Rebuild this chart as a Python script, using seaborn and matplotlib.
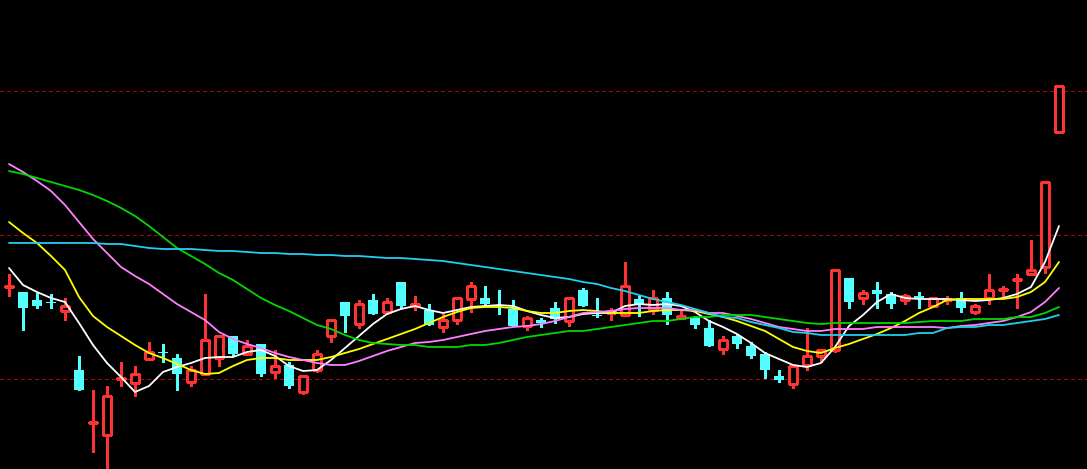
import numpy as np
import pandas as pd
import matplotlib
matplotlib.use("Agg")
import matplotlib.pyplot as plt
import seaborn as sns

# daily candles (price units)
opens = [21.3, 20.8, 20.0, 19.8, 18.9, 13.0, 7.7, 6.5, 12.1, 11.7,
         14.1, 14.8, 14.2, 11.8, 12.6, 14.2, 16.4, 14.6, 15.6, 12.8,
         13.5, 10.8, 13.0, 16.4, 19.8, 17.6, 20.0, 18.8, 21.8, 19.4,
         19.0, 17.3, 18.0, 20.1, 20.2, 19.5, 19.1, 17.4, 18.0, 19.2,
         17.9, 21.0, 18.5, 18.7, 18.5, 20.1, 19.0, 20.2, 18.2, 18.2,
         17.2, 15.1, 16.4, 15.4, 14.6, 12.4, 11.6, 13.5, 14.4, 15.0,
         22.2, 20.2, 21.0, 20.6, 20.0, 20.4, 19.4, 20.0, 20.2, 18.8,
         20.2, 21.0, 22.0, 22.6, 23.3, 36.8]
closes = [21.4, 19.2, 19.4, 19.7, 19.4, 11.0, 7.8, 10.4, 12.2, 12.6,
          14.8, 14.7, 12.6, 13.0, 16.0, 16.4, 14.6, 15.4, 12.6, 13.4,
          11.4, 12.4, 14.6, 18.0, 18.4, 19.6, 18.6, 19.8, 19.4, 19.6,
          17.5, 18.0, 20.2, 21.4, 19.6, 19.4, 17.4, 18.2, 17.7, 18.1,
          20.2, 19.4, 18.4, 18.9, 21.4, 19.6, 20.2, 18.5, 18.4, 17.5,
          15.4, 16.0, 15.6, 14.4, 13.0, 12.0, 13.4, 14.4, 15.0, 23.0,
          19.8, 20.7, 20.6, 19.6, 20.4, 20.2, 20.2, 20.1, 19.2, 19.4,
          21.0, 21.1, 22.1, 23.0, 31.8, 41.4]
highs = [22.6, 20.8, 20.7, 20.6, 20.2, 14.4, 11.0, 11.4, 13.8, 13.4,
         15.8, 15.6, 14.6, 13.4, 20.6, 16.4, 16.4, 16.0, 15.6, 15.0,
         13.8, 12.4, 15.0, 18.0, 19.8, 20.0, 20.6, 20.2, 21.8, 20.4,
         19.6, 18.6, 20.2, 21.8, 21.4, 21.0, 20.0, 18.4, 18.2, 19.8,
         20.2, 21.2, 20.2, 19.2, 23.8, 20.4, 21.0, 20.8, 19.0, 18.4,
         18.0, 16.4, 16.6, 15.8, 14.8, 13.0, 13.4, 17.2, 15.0, 23.0,
         22.2, 21.0, 21.8, 20.8, 20.6, 20.8, 20.2, 20.4, 20.8, 19.6,
         22.6, 21.4, 22.6, 26.0, 31.8, 41.4]
lows = [20.4, 17.0, 19.2, 19.2, 18.0, 11.0, 4.8, 3.0, 11.4, 10.4,
        14.1, 13.8, 11.0, 11.4, 12.6, 13.4, 14.4, 14.6, 12.4, 12.2,
        11.2, 10.6, 12.8, 15.8, 16.8, 17.2, 18.6, 18.6, 19.2, 19.0,
        17.5, 16.8, 17.6, 18.8, 19.4, 18.6, 17.4, 17.0, 17.3, 17.7,
        17.4, 19.4, 18.3, 18.0, 18.4, 18.4, 18.6, 17.6, 18.2, 17.2,
        15.4, 14.6, 15.2, 14.2, 12.2, 11.8, 11.2, 13.0, 13.8, 14.8,
        19.2, 19.6, 19.2, 19.2, 19.6, 19.2, 19.4, 19.6, 18.8, 18.6,
        19.6, 20.2, 19.2, 22.6, 22.7, 36.8]

# moving average lines
ma5 = [23.2, 21.5, 20.8, 20.2, 19.8, 17.7, 15.5, 13.7, 12.3, 10.8,
       11.4, 12.8, 13.3, 13.7, 14.2, 14.3, 14.3, 14.8, 15.0, 14.4,
       13.4, 12.9, 13.0, 14.0, 15.2, 16.4, 17.6, 18.6, 19.1, 19.4,
       19.0, 18.7, 19.0, 19.3, 19.4, 19.5, 19.4, 18.9, 18.5, 18.2,
       18.3, 18.6, 18.7, 18.7, 19.4, 19.6, 19.5, 19.6, 19.4, 18.8,
       17.9, 17.3, 16.6, 15.7, 14.7, 14.1, 13.5, 13.3, 13.7, 15.3,
       17.4, 18.5, 19.8, 20.6, 20.2, 20.1, 20.1, 20.1, 20.0, 19.9,
       20.0, 20.2, 20.6, 21.3, 23.8, 27.4]
ma10 = [27.8, 26.7, 25.7, 24.4, 23.0, 20.3, 18.4, 17.3, 16.4, 15.5,
        14.7, 14.2, 13.6, 13.0, 12.6, 12.7, 13.4, 14.0, 14.2, 14.2,
        14.0, 14.0, 14.0, 14.3, 14.7, 15.1, 15.6, 16.1, 16.6, 17.1,
        17.7, 18.3, 18.8, 19.2, 19.3, 19.3, 19.2, 18.9, 18.7, 18.7,
        18.9, 19.0, 18.9, 18.7, 18.7, 18.7, 18.9, 19.0, 19.0, 18.9,
        18.6, 18.3, 17.9, 17.4, 16.9, 16.1, 15.3, 14.9, 14.7, 15.2,
        15.6, 16.1, 16.6, 17.2, 17.9, 18.7, 19.3, 20.0, 20.1, 20.1,
        20.1, 20.1, 20.3, 20.8, 21.8, 23.8]
ma20 = [33.6, 32.8, 31.9, 30.9, 29.5, 27.8, 26.1, 24.7, 23.3, 22.4,
        21.6, 20.6, 19.6, 18.8, 18.0, 16.8, 16.1, 15.6, 15.2, 14.7,
        14.3, 14.0, 13.7, 13.5, 13.5, 13.9, 14.4, 14.9, 15.3, 15.7,
        15.8, 16.0, 16.3, 16.6, 16.9, 17.1, 17.3, 17.4, 17.6, 17.9,
        18.3, 18.7, 18.8, 18.9, 19.1, 19.2, 19.2, 19.2, 19.0, 19.0,
        18.7, 18.7, 18.4, 18.1, 17.7, 17.3, 17.1, 16.9, 16.9, 17.1,
        17.1, 17.1, 17.3, 17.3, 17.3, 17.3, 17.3, 17.2, 17.4, 17.5,
        17.7, 17.9, 18.3, 18.8, 19.8, 21.2]
ma30 = [32.9, 32.6, 32.2, 31.8, 31.4, 31.0, 30.5, 29.9, 29.2, 28.4,
        27.4, 26.3, 25.2, 24.4, 23.6, 22.7, 22.0, 21.1, 20.2, 19.5,
        18.9, 18.2, 17.5, 17.1, 16.5, 16.0, 15.7, 15.6, 15.5, 15.5,
        15.3, 15.3, 15.3, 15.5, 15.5, 15.7, 16.0, 16.3, 16.5, 16.7,
        16.9, 16.9, 17.1, 17.3, 17.5, 17.7, 17.9, 17.9, 18.1, 18.3,
        18.3, 18.5, 18.5, 18.5, 18.3, 18.1, 17.9, 17.7, 17.6, 17.7,
        17.7, 17.7, 17.7, 17.7, 17.7, 17.8, 17.9, 17.9, 17.9, 18.1,
        18.1, 18.1, 18.3, 18.3, 18.7, 19.3]
ma60 = [25.7, 25.7, 25.7, 25.7, 25.7, 25.7, 25.7, 25.6, 25.6, 25.4,
        25.2, 25.1, 25.1, 25.1, 25.0, 24.9, 24.9, 24.8, 24.7, 24.7,
        24.6, 24.6, 24.5, 24.5, 24.4, 24.4, 24.3, 24.2, 24.2, 24.1,
        24.0, 23.9, 23.7, 23.5, 23.3, 23.1, 22.9, 22.7, 22.5, 22.3,
        22.1, 21.8, 21.6, 21.2, 20.9, 20.5, 20.1, 19.8, 19.5, 19.1,
        18.7, 18.3, 18.2, 17.8, 17.5, 17.2, 16.8, 16.7, 16.5, 16.5,
        16.5, 16.5, 16.5, 16.5, 16.5, 16.7, 16.7, 17.2, 17.3, 17.3,
        17.5, 17.5, 17.7, 17.9, 18.1, 18.5]

grid_levels = [12.1, 26.5, 40.9]

RED = "#FF3232"
CYAN = "#54FFFF"
LW = 0.85  # candle outline / wick width

sns.set_style("dark", {"axes.facecolor": "black", "figure.facecolor": "black"})

fig = plt.figure(figsize=(10.87, 4.69), dpi=100)
ax = fig.add_axes([0, 0, 1, 1])
ax.set_facecolor("black")

o = np.array(opens)
c = np.array(closes)
h = np.array(highs)
l = np.array(lows)
x = np.arange(len(c))
up = c >= o
dn = ~up

# dotted price levels
for lvl in grid_levels:
    ax.axhline(lvl, color="#B00000", lw=1.0, ls=(0, (2.2, 2.2)),
               antialiased=False, zorder=1)

# down candles: filled cyan, wick through
ax.vlines(x[dn], l[dn], h[dn], color=CYAN, lw=LW, antialiased=False, zorder=2)
ax.bar(x[dn], (o - c)[dn], bottom=c[dn], width=0.71, color=CYAN, lw=0,
       antialiased=False, zorder=3)

# up candles: hollow red, wick outside the body
ax.vlines(x[up], l[up], o[up], color=RED, lw=LW, antialiased=False, zorder=2)
ax.vlines(x[up], c[up], h[up], color=RED, lw=LW, antialiased=False, zorder=2)
body = np.maximum((c - o)[up], 0.05)
ax.bar(x[up], body, bottom=o[up], width=0.64, facecolor="black",
       edgecolor=RED, lw=LW, antialiased=False, zorder=3)

# moving averages
ma = pd.DataFrame({"idx": x, "MA5": ma5, "MA10": ma10, "MA20": ma20,
                   "MA30": ma30, "MA60": ma60})
ma_long = ma.melt(id_vars="idx", var_name="line", value_name="price")
palette = {"MA5": "#FFFFFF", "MA10": "#FFFF00", "MA20": "#FF80FF",
           "MA30": "#00D800", "MA60": "#20D0F0"}
sns.lineplot(data=ma_long, x="idx", y="price", hue="line", palette=palette,
             linewidth=1.3, legend=False, ax=ax, zorder=4)

ax.set_xlim(-0.643, 77.0)
ax.set_ylim(3.1, 50)
ax.axis("off")

fig.savefig("out.png", dpi=100, facecolor="black")
